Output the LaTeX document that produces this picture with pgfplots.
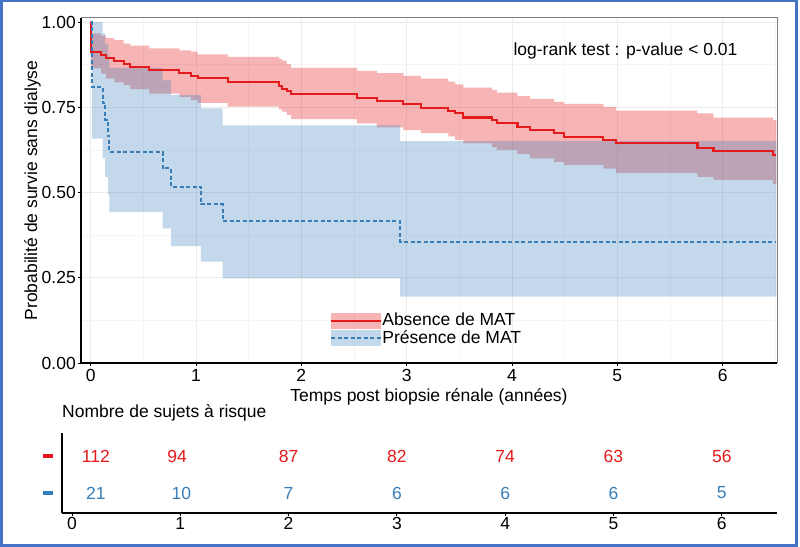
\documentclass[border=0pt]{standalone}
\usepackage{pgfplots}
\usepackage{pgfplotstable}
\pgfplotsset{compat=1.18}
\usepgfplotslibrary{fillbetween}
\usepackage{fontspec}
\setmainfont{Liberation Sans}
\definecolor{redc}{RGB}{228,26,28}
\definecolor{bluec}{RGB}{55,126,184}
\definecolor{framec}{RGB}{68,114,196}
\pgfplotstableread{
t S up lo
0 1 1 1
0.003 0.913 0.967 0.864
0.098 0.904 0.960 0.849
0.145 0.895 0.954 0.834
0.224 0.886 0.947 0.823
0.313 0.878 0.937 0.815
0.376 0.869 0.931 0.803
0.557 0.859 0.923 0.790
0.842 0.850 0.917 0.780
0.953 0.843 0.913 0.771
1.016 0.835 0.905 0.763
1.301 0.823 0.898 0.752
1.788 0.813 0.892 0.744
1.814 0.805 0.887 0.737
1.861 0.797 0.877 0.728
1.902 0.788 0.866 0.715
2.526 0.776 0.857 0.703
2.716 0.768 0.850 0.691
2.969 0.760 0.842 0.683
3.134 0.749 0.834 0.674
3.396 0.740 0.825 0.665
3.460 0.732 0.817 0.654
3.538 0.720 0.808 0.644
3.808 0.713 0.801 0.633
3.856 0.705 0.793 0.625
4.052 0.693 0.783 0.613
4.172 0.683 0.775 0.600
4.400 0.674 0.766 0.590
4.495 0.662 0.760 0.581
4.868 0.654 0.751 0.570
4.989 0.644 0.740 0.558
5.761 0.631 0.732 0.546
5.913 0.622 0.720 0.537
6.476 0.610 0.713 0.525
6.510 0.610 0.713 0.525
}\redtab
\pgfplotstableread{
t S up lo
0 1 1 1
0.012 0.810 1.000 0.658
0.114 0.762 0.967 0.600
0.136 0.714 0.936 0.546
0.165 0.667 0.902 0.493
0.178 0.619 0.866 0.443
0.684 0.571 0.829 0.395
0.763 0.517 0.786 0.343
1.047 0.465 0.747 0.297
1.253 0.416 0.697 0.248
2.937 0.356 0.651 0.195
6.510 0.356 0.651 0.195
}\bluetab
\pgfplotstableread{
x y n
0.22 0.7125 112
0.97 0.7125 94
2.00 0.7125 87
3.00 0.7125 82
4.00 0.7125 74
5.00 0.7125 63
6.00 0.7125 56
}\riskred
\pgfplotstableread{
x y n
0.22 0.25 21
1.01 0.25 10
2.00 0.25 7
3.00 0.25 6
4.00 0.25 6
5.00 0.25 6
6.00 0.25 5
}\riskblue
\begin{document}
\fontsize{17.5bp}{21bp}\selectfont
\begin{tikzpicture}
\begin{axis}[
 name=main,
 at={(81bp,184bp)}, anchor=south west,
 scale only axis, width=696bp, height=345bp,
 xmin=-0.092, xmax=6.516, ymin=0, ymax=1.012,
 axis line style={draw=none},
 xtick={0,...,6}, ytick={0,0.25,0.5,0.75,1},
 minor xtick={0.5,1.5,2.5,3.5,4.5,5.5,6.5}, minor ytick={0.125,0.375,0.625,0.875},
 grid=both,
 major grid style={draw=black!8, line width=0.6bp},
 minor grid style={draw=black!4, line width=0.5bp},
 tick align=outside, major tick length=3bp, minor tick length=0pt,
 xtick pos=bottom, ytick pos=left,
 tick style={black, line width=0.8bp},
 /pgf/number format/assume math mode=true,
 yticklabel style={/pgf/number format/fixed, /pgf/number format/fixed zerofill, /pgf/number format/precision=2, inner sep=0pt, xshift=-2bp},
 xticklabel style={inner sep=0pt, yshift=-3bp},
 xlabel={Temps post biopsie rénale (années)},
 ylabel={Probabilité de survie sans dialyse},
 xlabel style={at={(axis description cs:0.5,-0.113)}, anchor=base, inner sep=0pt},
 ylabel style={at={(axis description cs:-0.0632,0.5)}, anchor=base, inner sep=0pt},
 legend style={at={(axis description cs:0.3578,0.1449)}, anchor=north west, draw=none, fill=none, inner sep=0pt, row sep=1.5bp, nodes={inner sep=0pt}, /tikz/every even column/.append style={column sep=3bp}},
 legend cell align=left,
 clip=false,
]
\addplot[redc, line width=2.1bp, const plot, forget plot] table[x=t, y=S]{\redtab};
\addplot[bluec, line width=2bp, dash pattern=on 4bp off 2.5bp, const plot, forget plot] table[x=t, y=S]{\bluetab};
\addplot[name path=ru, draw=none, const plot, forget plot] table[x=t, y=up]{\redtab};
\addplot[name path=rl, draw=none, const plot, forget plot] table[x=t, y=lo]{\redtab};
\addplot[fill=redc, fill opacity=0.33, draw=none, forget plot] fill between[of=ru and rl];
\addplot[name path=bu, draw=none, const plot, forget plot] table[x=t, y=up]{\bluetab};
\addplot[name path=bl, draw=none, const plot, forget plot] table[x=t, y=lo]{\bluetab};
\addplot[fill=bluec, fill opacity=0.3, draw=none, forget plot] fill between[of=bu and bl];
\addlegendimage{legend image code/.code={\path[fill=redc, fill opacity=0.33, draw=none] (0bp,-7.75bp) rectangle (50bp,7.75bp); \path[draw=redc, line width=2.1bp] (0bp,0bp) -- (50bp,0bp);}}
\addlegendentry{Absence de MAT}
\addlegendimage{legend image code/.code={\path[fill=bluec, fill opacity=0.3, draw=none] (0bp,-7.75bp) rectangle (50bp,7.75bp); \path[draw=bluec, line width=2bp, dash pattern=on 4bp off 2.5bp] (0bp,0bp) -- (50bp,0bp);}}
\addlegendentry{Présence de MAT}
\node[anchor=center, inner sep=0pt] at (axis description cs:0.7823,0.9058) {log-rank test : p-value < 0.01};
\end{axis}
\draw[black!50, line width=1bp] (main.north west) -- (main.north east) -- (main.south east);
\draw[black, line width=1.6bp] (main.north west) -- (main.south west) -- (main.south east);
\begin{axis}[
 at={(62bp,34bp)}, anchor=south west,
 scale only axis, width=715bp, height=80bp,
 xmin=-0.092, xmax=6.51, ymin=0, ymax=1,
 axis x line=bottom, axis y line=left,
 axis line style={black, line width=1.2bp, -},
 xtick={0,...,6}, ytick={0.25,0.7125},
 yticklabels={\textcolor{bluec}{\rule{10bp}{3.5bp}},\textcolor{redc}{\rule{10bp}{3.5bp}}},
 tick align=outside, major tick length=3bp,
 ytick style={draw=none}, xtick style={black, line width=0.8bp},
 /pgf/number format/assume math mode=true,
 xticklabel style={inner sep=0pt, yshift=-1.5bp},
 yticklabel style={inner sep=0pt, xshift=-6bp},
 title={Nombre de sujets à risque},
 title style={at={(axis description cs:0,1)}, anchor=base west, yshift=9.5bp, inner sep=0pt},
 clip=false,
]
\addplot[only marks, mark=none, nodes near coords, point meta=explicit symbolic, every node near coord/.append style={anchor=center, text=redc, inner sep=0pt}] table[x=x, y=y, meta=n]{\riskred};
\addplot[only marks, mark=none, nodes near coords, point meta=explicit symbolic, every node near coord/.append style={anchor=center, text=bluec, inner sep=0pt}] table[x=x, y=y, meta=n]{\riskblue};
\end{axis}
\draw[framec, line width=2.6bp] (1.3bp,1.5bp) rectangle (796.7bp,546.1bp);
\pgfresetboundingbox
\useasboundingbox (0bp,0bp) rectangle (800bp,547bp);
\end{tikzpicture}
\end{document}
